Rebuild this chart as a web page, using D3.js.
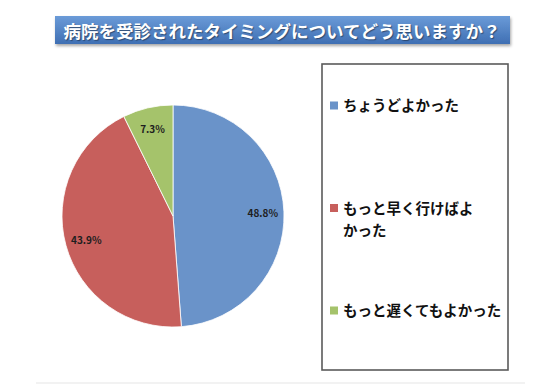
<!DOCTYPE html>
<html lang="ja">
<head>
<meta charset="utf-8">
<title>病院を受診されたタイミング</title>
<script src="https://d3js.org/d3.v7.min.js"></script>
<style>
  body { margin: 0; background: #fff; }
  svg { display: block; font-family: "Noto Sans CJK JP", "Noto Sans", sans-serif; }
</style>
</head>
<body>
<div id="chart"></div>
<script>
const title = "病院を受診されたタイミングについてどう思いますか？";
const categories = ["ちょうどよかった", "もっと早く行けばよかった", "もっと遅くてもよかった"];
const values = [48.8, 43.9, 7.3];
const colors = ["#6a93c9", "#c75f5c", "#a5c36b"];

const width = 560, height = 385;
const svg = d3.select("#chart").append("svg")
    .attr("width", width)
    .attr("height", height);

const defs = svg.append("defs");
const grad = defs.append("linearGradient")
    .attr("id", "titleGrad")
    .attr("x1", 0).attr("y1", 0).attr("x2", 0).attr("y2", 1);
grad.append("stop").attr("offset", "0%").attr("stop-color", "#6b9bd8");
grad.append("stop").attr("offset", "100%").attr("stop-color", "#3f6fb3");

const shadow = defs.append("filter").attr("id", "shadow")
    .attr("x", "-5%").attr("y", "-20%").attr("width", "110%").attr("height", "150%");
shadow.append("feDropShadow")
    .attr("dx", 1).attr("dy", 2).attr("stdDeviation", 1.5)
    .attr("flood-color", "#000").attr("flood-opacity", 0.35);

// title bar
svg.append("rect")
    .attr("x", 55).attr("y", 16)
    .attr("width", 455).attr("height", 28)
    .attr("fill", "url(#titleGrad)")
    .attr("filter", "url(#shadow)");

svg.append("text")
    .attr("x", 282).attr("y", 30)
    .attr("text-anchor", "middle")
    .attr("dominant-baseline", "central")
    .attr("fill", "#fff")
    .attr("font-size", 17.5)
    .attr("font-weight", "bold")
    .style("text-shadow", "1px 1px 1px rgba(0,0,0,0.4)")
    .text(title);

// pie
const cx = 173, cy = 216, radius = 111;
const pie = d3.pie().sort(null).value(d => d);
const arcs = pie(values);
const arc = d3.arc().innerRadius(0).outerRadius(radius);
const labelArc = d3.arc().innerRadius(radius * 0.81).outerRadius(radius * 0.81);

const g = svg.append("g").attr("transform", `translate(${cx},${cy})`);

g.selectAll("path.slice")
    .data(arcs)
    .join("path")
    .attr("class", "slice")
    .attr("d", arc)
    .attr("fill", (d, i) => colors[i])
    .attr("stroke", "#fff")
    .attr("stroke-width", 0.8);

g.selectAll("text.pct")
    .data(arcs)
    .join("text")
    .attr("class", "pct")
    .attr("transform", d => `translate(${labelArc.centroid(d)})`)
    .attr("text-anchor", "middle")
    .attr("dominant-baseline", "central")
    .attr("font-size", 10)
    .attr("font-weight", "bold")
    .attr("fill", "#1e1e1e")
    .text(d => d.data.toFixed(1) + "%");

// legend
const lx = 322, ly = 64, lw = 186, lh = 306;
svg.append("rect")
    .attr("x", lx).attr("y", ly)
    .attr("width", lw).attr("height", lh)
    .attr("fill", "#fff")
    .attr("stroke", "#5a5a5a")
    .attr("stroke-width", 1.6);

const yLegend = d3.scalePoint()
    .domain(categories)
    .range([106, 311]);

const maxChars = 9;
const items = svg.selectAll("g.item")
    .data(categories)
    .join("g")
    .attr("class", "item")
    .attr("transform", d => `translate(${lx + 8},${yLegend(d)})`);

items.append("rect")
    .attr("x", 0).attr("y", -4.5)
    .attr("width", 8).attr("height", 8)
    .attr("fill", (d, i) => colors[i]);

items.append("text")
    .attr("x", 13)
    .attr("font-size", 14.5)
    .attr("font-weight", "bold")
    .attr("fill", "#111")
    .each(function(d) {
      const lines = d.length > maxChars + 2
        ? [d.slice(0, maxChars), d.slice(maxChars)]
        : [d];
      const t = d3.select(this);
      lines.forEach((line, k) => {
        t.append("tspan")
          .attr("x", 13)
          .attr("dy", k === 0 ? "0.35em" : 22)
          .text(line);
      });
    });

// faint rule at bottom
svg.append("line")
    .attr("x1", 36).attr("x2", 525)
    .attr("y1", 383).attr("y2", 383)
    .attr("stroke", "#eeeeee")
    .attr("stroke-width", 1.5);
</script>
</body>
</html>
